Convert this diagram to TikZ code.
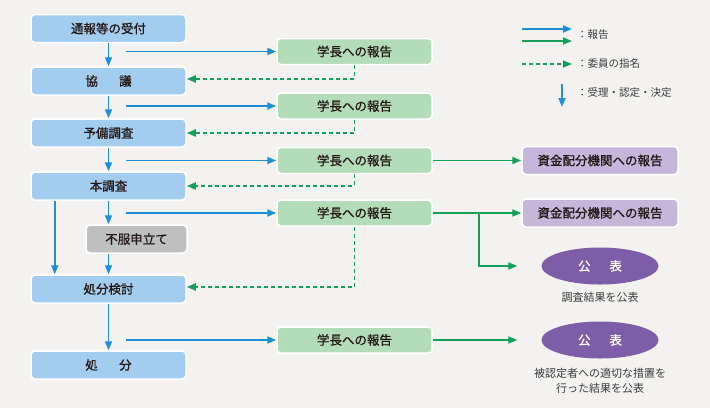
\documentclass[tikz,border=0pt]{standalone}
\usepackage{fontspec}
\setmainfont{Noto Sans CJK JP}
\newfontfamily\cjkm{Noto Sans CJK JP}[FakeBold=0.9]
\usetikzlibrary{arrows.meta,shapes.geometric}
\definecolor{bg}{HTML}{F3F2F0}
\definecolor{bluebox}{HTML}{A3CDEF}
\definecolor{blueline}{HTML}{1E8ED6}
\definecolor{greenbox}{HTML}{B3DCB8}
\definecolor{greenline}{HTML}{14A05A}
\definecolor{purplebox}{HTML}{C5B6DA}
\definecolor{purpleell}{HTML}{7E5DA8}
\definecolor{graybox}{HTML}{BDBFC0}
\definecolor{txt}{HTML}{231815}
\definecolor{captxt}{HTML}{3C3C3C}
\tikzset{
  box/.style={draw=white, line width=1.5pt, rounded corners=4pt, minimum height=28pt, inner sep=0pt, font=\cjkm\fontsize{12.5}{15}\selectfont, text=txt},
  lbox/.style={box, fill=bluebox, minimum width=155pt},
  gbox/.style={box, fill=greenbox, minimum width=155pt, minimum height=26pt},
  pbox/.style={box, fill=purplebox, minimum width=156pt},
  xbox/.style={box, fill=graybox, minimum width=101pt},
  ell/.style={ellipse, fill=purpleell, minimum width=117pt, minimum height=37pt, inner sep=0pt, text=white, font=\cjkm\fontsize{12.5}{15}\selectfont},
  tip/.style={-{Triangle[length=9pt,width=7pt]}},
  barrow/.style={draw=blueline, line width=1.8pt, tip},
  garrow/.style={draw=greenline, line width=1.8pt, tip},
  dashline/.style={draw=greenline, line width=1.8pt, dash pattern=on 4pt off 3pt, tip},
  legtxt/.style={anchor=west, inner sep=0pt, text=captxt, font=\fontsize{10.5}{13}\selectfont},
  captext/.style={inner sep=0pt, text=captxt, align=center, font=\fontsize{11}{15}\selectfont},
}
\begin{document}
\begin{tikzpicture}[x=1pt,y=-1pt]
\fill[bg] (0,0) rectangle (710,408);
% left column
\node[lbox] (b1) at (108.5,28.5) {通報等の受付};
\node[lbox] (b2) at (108.5,81) {協\hspace{1.7em}議};
\node[lbox] (b3) at (108.5,133) {予備調査};
\node[lbox] (b4) at (108.5,186) {本調査};
\node[xbox] (f) at (136.5,239) {不服申立て};
\node[lbox] (b5) at (108.5,289) {処分検討};
\node[lbox] (b6) at (108.5,365) {処\hspace{1.7em}分};
% green boxes
\node[gbox] (g1) at (354.5,51.5) {学長への報告};
\node[gbox] (g2) at (354.5,106) {学長への報告};
\node[gbox] (g3) at (354.5,160.5) {学長への報告};
\node[gbox] (g4) at (354.5,213) {学長への報告};
\node[gbox] (g5) at (354.5,340) {学長への報告};
% purple
\node[pbox] (p1) at (600,160.5) {資金配分機関への報告};
\node[pbox] (p2) at (600,213) {資金配分機関への報告};
\node[ell] (e1) at (600,266) {公\hspace{1.5em}表};
\node[ell] (e2) at (600,340) {公\hspace{1.5em}表};
\node[captext] (c1) at (600,297) {調査結果を公表};
\node[captext] (c2) at (600,381) {被認定者への適切な措置を\\行った結果を公表};
% vertical arrows
\draw[barrow] (b1) -- (b2);
\draw[barrow] (b2) -- (b3);
\draw[barrow] (b3) -- (b4);
\draw[barrow] (b4.south) -- (b4.south |- f.north);
\draw[barrow] (b4.south |- f.south) -- (b5.north);
\draw[barrow] ([xshift=24.5pt]b4.south west) -- ([xshift=24.5pt]b5.north west);
\draw[barrow] (b5) -- (b6);
% blue report arrows
\coordinate (h1) at (126,51.5);
\coordinate (h2) at (126,106);
\coordinate (h3) at (126,160.5);
\coordinate (h4) at (126,213);
\coordinate (h5) at (126,340);
\draw[barrow] (h1) -- (g1.west);
\draw[barrow] (h2) -- (g2.west);
\draw[barrow] (h3) -- (g3.west);
\draw[barrow] (h4) -- (g4.west);
\draw[barrow] (h5) -- (g5.west);
% dashed appointments
\draw[dashline] (g1.south) |- ([yshift=2pt]b2.east);
\draw[dashline] (g2.south) |- (b3.east);
\draw[dashline] (g3.south) |- (b4.east);
\draw[dashline] (g4.south) |- ([yshift=2pt]b5.east);
% green reports
\draw[garrow] (g3.east) -- (p1.west);
\draw[garrow] (g4.east) -- (p2.west);
\coordinate (br) at ([xshift=46pt]g4.east);
\draw[garrow, shorten >=24pt] (br) |- (e1.west);
\draw[garrow, shorten >=24pt] (g5.east) -- (e2.west);
% legend
\coordinate (la1) at (522,29); \coordinate (lb1) at (572,29);
\coordinate (la2) at (522,41); \coordinate (lb2) at (572,41);
\coordinate (la3) at (522,64); \coordinate (lb3) at (572,64);
\coordinate (la4) at (562,84); \coordinate (lb4) at (562,107);
\draw[barrow] (la1) -- (lb1);
\draw[garrow] (la2) -- (lb2);
\draw[dashline] (la3) -- (lb3);
\draw[barrow] (la4) -- (lb4);
\node[legtxt] (t1) at (577,35) {：報告};
\node[legtxt] (t2) at (577,64) {：委員の指名};
\node[legtxt] (t3) at (577,93) {：受理・認定・決定};
\end{tikzpicture}
\end{document}
